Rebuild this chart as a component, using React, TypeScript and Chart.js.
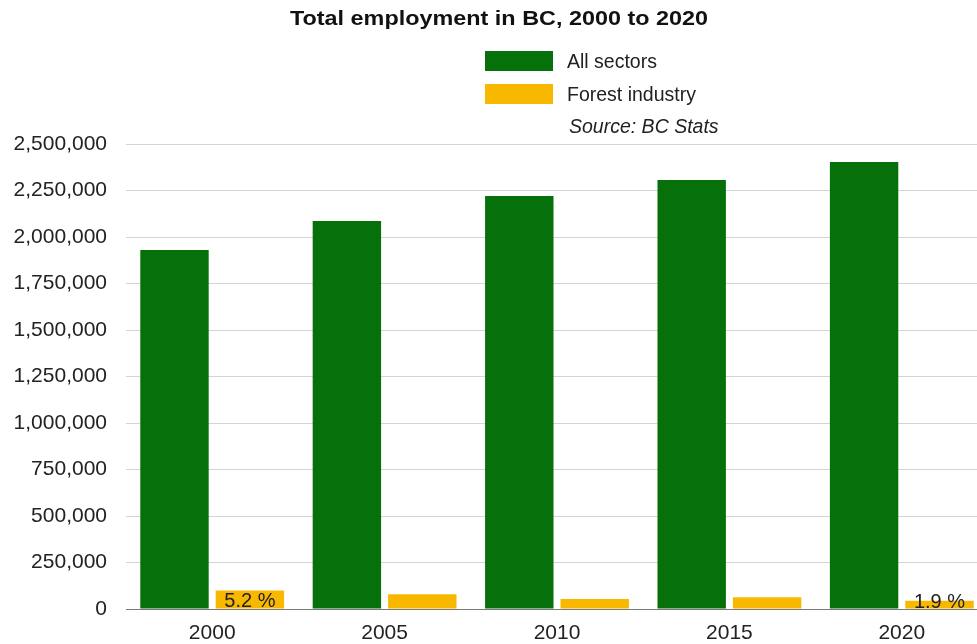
import React, { useEffect, useRef } from "react";
import { Chart, registerables } from "chart.js";

Chart.register(...registerables);

const years = ["2000", "2005", "2010", "2015", "2020"];
const allSectors = [1930000, 2086000, 2220000, 2306000, 2403000];
const forestIndustry = [99000, 79000, 54000, 63000, 44000];
const forestLabels = ["5.2 %", "", "", "", "1.9 %"];
const titleText = "Total employment in BC, 2000 to 2020";
const sourceText = "Source: BC Stats";
const yMax = 2500000;
const yStep = 250000;

const GREEN = "#06700a";
const YELLOW = "#f8b800";
const FONT = "'Liberation Sans', Arial, Helvetica, sans-serif";

const overlayPlugin = {
  id: "overlay",
  afterDraw(chart: any) {
    const ctx = chart.ctx;
    ctx.save();
    ctx.fillStyle = "#111";
    ctx.font = `bold 21px ${FONT}`;
    ctx.textAlign = "center";
    ctx.textBaseline = "middle";
    const tw = ctx.measureText(titleText).width;
    const sx = 418 / tw;
    ctx.save();
    ctx.translate(499, 19);
    ctx.scale(sx, 1);
    ctx.fillText(titleText, 0, 0);
    ctx.restore();
    const ds = chart.data.datasets;
    ctx.textAlign = "left";
    ctx.font = `19.5px ${FONT}`;
    ds.forEach((d: any, i: number) => {
      const y = 51 + i * 33;
      ctx.fillStyle = d.backgroundColor;
      ctx.fillRect(485, y, 68, 20);
      ctx.fillStyle = "#222";
      ctx.fillText(d.label, 567, y + 12);
    });
    ctx.font = `italic 19.5px ${FONT}`;
    ctx.fillText(sourceText, 569, 128);
    const meta = chart.getDatasetMeta(1);
    const base = chart.scales.y.getPixelForValue(0);
    ctx.font = `20px ${FONT}`;
    ctx.textAlign = "center";
    ctx.fillStyle = "#222";
    meta.data.forEach((bar: any, i: number) => {
      const t = forestLabels[i];
      if (!t) return;
      const cy = Math.min((bar.y + base) / 2 + 1.5, base - 7);
      ctx.fillText(t, bar.x, cy);
    });
    ctx.restore();
  },
};

export default function App() {
  const ref = useRef<HTMLCanvasElement>(null);
  useEffect(() => {
    document.body.style.margin = "0";
    document.body.style.overflow = "hidden";
    const chart = new Chart(ref.current!, {
      type: "bar",
      data: {
        labels: years,
        datasets: [
          {
            label: "All sectors",
            data: allSectors,
            backgroundColor: GREEN,
            categoryPercentage: 0.875,
            barPercentage: 0.907,
          },
          {
            label: "Forest industry",
            data: forestIndustry,
            backgroundColor: YELLOW,
            categoryPercentage: 0.875,
            barPercentage: 0.907,
          },
        ],
      },
      options: {
        animation: false,
        responsive: false,
        layout: { padding: { top: 144, left: 12, right: 2, bottom: 0 } },
        plugins: {
          legend: { display: false },
          title: { display: false },
          tooltip: { enabled: false },
        },
        scales: {
          x: {
            grid: { display: false, drawTicks: false },
            border: { display: false },
            afterFit: (s: any) => {
              s.height = 35;
            },
            ticks: {
              color: "#222",
              font: { family: FONT, size: 21 },
              padding: 12,
              maxRotation: 0,
            },
          },
          y: {
            min: 0,
            max: yMax,
            border: { display: false },
            afterFit: (s: any) => {
              s.width = 114;
            },
            grid: {
              drawTicks: false,
              color: (c: any) => (c.tick && c.tick.value === 0 ? "#7a7a7a" : "#d4d4d4"),
              lineWidth: 1,
            },
            ticks: {
              stepSize: yStep,
              padding: 19,
              color: "#222",
              font: { family: FONT, size: 21 },
              callback: (v: any) => Number(v).toLocaleString("en-US"),
            },
          },
        },
      },
      plugins: [overlayPlugin],
    });
    return () => chart.destroy();
  }, []);
  return (
    <div style={{ width: 977, height: 644, overflow: "hidden", background: "#fff" }}>
      <canvas ref={ref} width={990} height={644} style={{ display: "block" }} />
    </div>
  );
}
